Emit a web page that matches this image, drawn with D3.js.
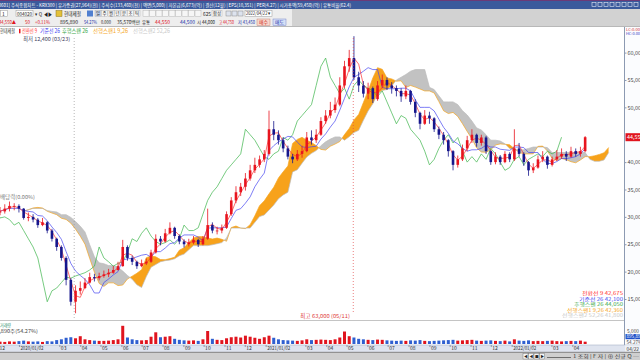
<!DOCTYPE html>
<html>
<head>
<meta charset="utf-8">
<script src="https://cdn.jsdelivr.net/npm/d3@7/dist/d3.min.js"></script>
<style>
  body { margin: 0; background: #fff; overflow: hidden; }
  svg { display: block; font-family: "Noto Sans CJK KR", "Noto Sans", sans-serif; }
</style>
</head>
<body>
<svg id="chart" width="640" height="360"></svg>
<script>
// Weekly buckets (Wednesday of each week)
const firstWeek = new Date(2019, 11, 4);
const firstOpen = 30800;

const closes = [
  31000, 31500, 32000, 32000, 31500, 29800, 30000, 29500, 28500, 29000,
  27500, 26000, 24500, 22500, 18500, 14500, 16500, 17000, 18000, 19000,
  18800, 19200, 19500, 19800, 20300, 21000, 24500, 22500, 21800, 21000,
  21500, 21800, 23500, 26000, 25500, 27000, 28000, 26500, 25500, 25000,
  25300, 25800, 25000, 26000, 28500, 27500, 27500, 28000, 30500, 33000,
  34500, 35500, 37000, 38500, 39500, 40500, 41500, 46000, 45000, 44000,
  42500, 41000, 40500, 41500, 42000, 44500, 44000, 45000, 47500, 48500,
  49500, 50500, 54000, 57500, 59000, 55500, 54000, 52500, 53500, 51500,
  54000, 55000, 54000, 53500, 53000, 52000, 53000, 51000, 49000, 47000,
  48500, 48000, 46000, 45000, 44000, 42000, 39500, 40500, 42500, 44000,
  45000, 43500, 44500, 42000, 40000, 41000, 40000, 41500, 40500, 42500,
  41500, 40000, 38500, 39000, 40500, 41000, 39500, 40500, 41000, 41500,
  41000, 42000, 41500, 42000, 44550
];
const highs = [
  31800, 32300, 32800, 32500, 32300, 31600, 30800, 30500, 29800, 29800,
  29200, 27800, 26200, 24800, 22800, 18800, 17500, 18200, 18800, 19800,
  19600, 19800, 20200, 20500, 21000, 21800, 25800, 24800, 22900, 22000,
  22200, 22400, 24000, 26800, 26500, 27800, 29000, 28200, 26800, 25900,
  26000, 26500, 26000, 26500, 31500, 29000, 28200, 28600, 31000, 33600,
  35600, 36200, 38000, 39500, 40800, 41200, 42200, 49400, 47500, 45800,
  44500, 43000, 41500, 42200, 43000, 45500, 45800, 46000, 48200, 49500,
  51000, 51800, 55500, 58500, 60500, 63000, 56500, 54800, 54500, 53800,
  54800, 56000, 55500, 54600, 54000, 53500, 54000, 53200, 51500, 49200,
  49500, 49200, 48200, 46500, 45500, 44200, 42200, 41200, 43200, 44800,
  46000, 45200, 45000, 44800, 42200, 41800, 41300, 42000, 41800, 46000,
  43500, 41800, 40200, 39800, 41200, 42000, 41200, 41000, 42200, 42500,
  42000, 42800, 42500, 42800, 44750
];
const lows = [
  30300, 30600, 31000, 31200, 30800, 29500, 29200, 29000, 28000, 28300,
  27000, 25500, 23800, 22000, 17500, 13800, 12400, 15800, 16800, 17800,
  18200, 18400, 18900, 19000, 19600, 20200, 20900, 22000, 21200, 20500,
  20800, 21200, 21600, 23300, 24800, 25300, 26800, 26000, 25000, 24400,
  24600, 25000, 24500, 24800, 25800, 27000, 26800, 27000, 27800, 30200,
  32500, 33800, 34800, 36600, 38000, 39000, 40000, 41200, 44000, 43200,
  41800, 40500, 39800, 40200, 40800, 41800, 43200, 43500, 44800, 47000,
  48000, 49000, 50200, 53500, 56500, 55000, 52800, 51800, 51500, 50800,
  51200, 53500, 53200, 52500, 52000, 51000, 51500, 50500, 48200, 46000,
  46800, 47000, 45500, 44200, 43200, 41000, 38500, 39000, 40200, 42000,
  43500, 42800, 43000, 41500, 39500, 39600, 39500, 39800, 40000, 40200,
  41000, 39300, 37500, 38000, 38800, 40000, 38800, 39200, 40200, 40600,
  40200, 40800, 41000, 41000, 41800
];
// volume, thousand shares
const volumes = [
  900, 800, 1000, 900, 1100, 1300, 1000, 900, 1000, 800,
  1100, 1000, 1500, 1800, 2400, 2600, 2200, 3000, 1800, 1500,
  1300, 1200, 1200, 1300, 1500, 1800, 7000, 2500, 1800, 1500,
  1400, 1500, 2800, 4500, 2600, 2800, 3000, 2000, 1600, 1400,
  1300, 1400, 1200, 1800, 5000, 2000, 1600, 1500, 2200, 2600,
  2800, 2500, 3200, 2800, 2400, 2000, 2600, 3200, 2400, 1800,
  1500, 1400, 1300, 1200, 1400, 1800, 1500, 1600, 1700, 1600,
  1500, 1800, 2500, 4800, 3000, 2500, 2000, 1800, 1600, 1500,
  1700, 1600, 1400, 1300, 1200, 1300, 1200, 1400, 1300, 1500,
  1200, 1100, 1200, 1300, 1400, 1500, 1600, 1300, 1400, 1500,
  1600, 1300, 1200, 1300, 1400, 1200, 1100, 1300, 1000, 1800,
  1300, 1200, 1400, 1100, 1200, 1100, 1200, 1300, 1100, 1000,
  1100, 1200, 1100, 1300, 895
];

// 45,000 sits under the current-price box, as in the original
const priceTicks = [15000, 20000, 25000, 30000, 35000, 40000, 50000, 55000, 60000];
const legendNames = ["전환선 9", "기준선 26", "후행스팬 26", "선행스팬1 9,26", "선행스팬2 52,26"];
const legendValues = ["42,675", "42,100", "44,050", "42,360", "41,800"];
const lowMark = { date: new Date(2020, 2, 23), label: "최저 12,400 (03/23)" };
const highMark = { date: new Date(2021, 4, 11), label: "최고 63,000 (05/11)" };

// Ichimoku periods in weekly buckets (9 / 26 / 52 days, shift 26)
const pConv = 2, pBase = 6, pSpan2 = 11, shift = 5;

const colors = {
  up: "#e8141e", down: "#16168c",
  conv: "#ff3030", base: "#4646f0", lag: "#3cb44a",
  span1: "#f5a623", span2: "#bcbcbc",
  cloudUp: "#f7a21b", cloudDown: "#c2c2c2"
};
const lineColors = [colors.conv, colors.base, "#3aa84a", colors.span1, "#c8c8c8"];

const svg = d3.select("#chart");
const weekDate = (i) => d3.timeDay.offset(firstWeek, 7 * i);

// squeeze a text into the width it takes in the original screenshot
const fit = (sel, w) => sel.attr("textLength", w).attr("lengthAdjust", "spacingAndGlyphs");
const txt = (g, px, py, t, size, fill, w) => {
  const s = g.append("text").attr("x", px).attr("y", py).attr("font-size", size).attr("fill", fill).text(t);
  if (w) fit(s, w);
  return s;
};

const candles = closes.map((c, i) => ({
  date: weekDate(i),
  open: i === 0 ? firstOpen : closes[i - 1],
  close: c, high: highs[i], low: lows[i], vol: volumes[i]
}));

const mid = (i, p) => {
  const a = Math.max(0, i - p + 1);
  return (d3.max(highs.slice(a, i + 1)) + d3.min(lows.slice(a, i + 1))) / 2;
};
const conv = candles.map((d, i) => ({ date: d.date, v: mid(i, pConv) }));
const base = candles.map((d, i) => ({ date: d.date, v: mid(i, pBase) }));
const cloud = candles.map((d, i) => ({
  date: weekDate(i + shift),
  a: (conv[i].v + base[i].v) / 2,
  b: mid(i, pSpan2)
}));
const lag = candles.map((d, i) => ({ date: weekDate(i - shift), v: d.close }));

// Scales
const x = d3.scaleTime()
  .domain([new Date(2020, 0, 2), new Date(2022, 3, 22)])
  .range([19.6, 586.5]);
const y = d3.scaleLinear().domain([15000, 60000]).range([299, 52.6]);
const yv = d3.scaleLinear().domain([0, 5000]).range([344, 331]);

// ---------- frame ----------
svg.append("rect").attr("width", 640).attr("height", 360).attr("fill", "#fff");

// title bar
svg.append("rect").attr("width", 640).attr("height", 9).attr("fill", "#3b5a9c");
svg.append("rect").attr("width", 640).attr("height", 1).attr("fill", "#6b3a78");
txt(svg, -3, 6.6, "[0601] 주식종합차트 - KRX300 | 유가증권(27,964)(천) | 주식수(133,460)(천) | 액면(5,000) | 자본금(6,673)(억) | 결산(12월) | EPS(10,351) | PER(4.27) | 시가총액(59,450)(억) | 유통비율(62.4)", 5, "#fff", 354);
d3.range(8).forEach((k) => {
  svg.append("rect").attr("x", 592 + k * 6).attr("y", 2.5).attr("width", 4).attr("height", 4)
    .attr("fill", "none").attr("stroke", "#e8ecf5").attr("stroke-width", 0.6);
});

// toolbar rows
svg.append("rect").attr("y", 9).attr("width", 640).attr("height", 18).attr("fill", "#d2d2d2");
svg.append("rect").attr("y", 9).attr("width", 292).attr("height", 18).attr("fill", "#eeeeee");
svg.append("line").attr("x1", 0).attr("x2", 640).attr("y1", 26.5).attr("y2", 26.5).attr("stroke", "#b8b8b8");

const tb = svg.append("g");
tb.append("rect").attr("x", 0.5).attr("y", 10.5).attr("width", 7).attr("height", 6).attr("fill", "#fff").attr("stroke", "#999").attr("stroke-width", 0.5);
txt(tb, 2, 15.5, "1", 5, "#222");
tb.append("rect").attr("x", 16).attr("y", 10.5).attr("width", 17).attr("height", 6).attr("fill", "#fff").attr("stroke", "#999").attr("stroke-width", 0.5);
txt(tb, 17, 15.5, "004020", 5, "#222", 15);
txt(tb, 35, 15.5, "▾ Q", 5, "#222", 7);
txt(tb, 44, 15.5, "◀▶", 5, "#222", 8);
tb.append("rect").attr("x", 56).attr("y", 10.5).attr("width", 6).attr("height", 6).attr("fill", "#e3c13a").attr("stroke", "#8a7420").attr("stroke-width", 0.5);
txt(tb, 64, 15.6, "현대제철", 5.5, "#222", 17);
tb.append("rect").attr("x", 87).attr("y", 10.5).attr("width", 6).attr("height", 6).attr("fill", "#4f7fd0");
["일", "주", "월", "년", "분", "초", "틱"].forEach((t, k) => {
  tb.append("rect").attr("x", 95 + k * 6.5).attr("y", 10.5).attr("width", 6).attr("height", 6)
    .attr("fill", k === 0 ? "#c9d6ee" : "#f6f6f6").attr("stroke", "#aaa").attr("stroke-width", 0.4);
  txt(tb, 96 + k * 6.5, 15.3, t, 4.4, "#222");
});
d3.range(9).forEach((k) => {
  tb.append("rect").attr("x", 143 + k * 6.5).attr("y", 10.5).attr("width", 6).attr("height", 6)
    .attr("fill", "#f6f6f6").attr("stroke", "#aaa").attr("stroke-width", 0.4);
});
txt(tb, 203, 15.5, "625", 5, "#222", 8);
tb.append("rect").attr("x", 212).attr("y", 10.5).attr("width", 10).attr("height", 6).attr("fill", "#f6f6f6").attr("stroke", "#aaa").attr("stroke-width", 0.4);
txt(tb, 213, 15.3, "합성", 4.4, "#222", 8);
[226, 232, 238].forEach((px) => {
  tb.append("rect").attr("x", px).attr("y", 11).attr("width", 5).attr("height", 5).attr("fill", "#dde3ee").attr("stroke", "#777").attr("stroke-width", 0.4);
});
tb.append("rect").attr("x", 245).attr("y", 10.5).attr("width", 27).attr("height", 6).attr("fill", "#fff").attr("stroke", "#999").attr("stroke-width", 0.5);
txt(tb, 246, 15.4, "2022/04/22 ▾", 4.6, "#222", 25);

const info = [
  { x: -1, w: 17, t: "44,550▲", c: "#e0141e" }, { x: 25, w: 5, t: "50", c: "#e0141e" },
  { x: 35, w: 15, t: "+0.11%", c: "#e0141e" }, { x: 60, w: 18, t: "895,890", c: "#222" },
  { x: 84, w: 13, t: "54.27%", c: "#2233aa" }, { x: 101, w: 10, t: "0.000", c: "#222" },
  { x: 117, w: 23, t: "35,570백만", c: "#222" }, { x: 142, w: 8, t: "유통", c: "#222" },
  { x: 155, w: 15, t: "44,550", c: "#e0141e" }, { x: 180, w: 15, t: "44,500", c: "#2233aa" },
  { x: 197, w: 18, t: "시 44,000", c: "#222" }, { x: 219, w: 15, t: "고 44,750", c: "#e0141e" },
  { x: 238, w: 17, t: "저 43,450", c: "#2233aa" }
];
info.forEach((d) => txt(tb, d.x, 24.2, d.t, 5, d.c, d.w));
tb.append("rect").attr("x", 257).attr("y", 19).attr("width", 13).attr("height", 6.5).attr("fill", "#f6d8cc").attr("stroke", "#c07060").attr("stroke-width", 0.4);
txt(tb, 259, 24.1, "매수", 4.6, "#d02020", 9);
tb.append("rect").attr("x", 273).attr("y", 19).attr("width", 13).attr("height", 6.5).attr("fill", "#d6e0f6").attr("stroke", "#6070c0").attr("stroke-width", 0.4);
txt(tb, 275, 24.1, "매도", 4.6, "#2030b0", 9);

// legend row
const lg = svg.append("g");
txt(lg, 0, 33, "현대제철", 5.5, "#333", 15);
lg.append("rect").attr("x", 19).attr("y", 28.8).attr("width", 1.5).attr("height", 4.5).attr("fill", colors.up);
const legendX = [22, 40, 62, 93, 133];
const legendW = [15, 20, 26, 35, 37];
legendNames.forEach((t, k) => txt(lg, legendX[k], 33, t, 5.5, lineColors[k], legendW[k]));

// ---------- price panel ----------
const defs = svg.append("defs");
defs.append("clipPath").attr("id", "plot").append("rect")
  .attr("x", 0).attr("y", 36).attr("width", 624).attr("height", 284);

const plot = svg.append("g").attr("clip-path", "url(#plot)");

// Kumo (cloud)
const ya = (d) => y(d.a), yb = (d) => y(d.b), xd = (d) => x(d.date);
defs.append("clipPath").attr("id", "belowA").append("path")
  .attr("d", d3.area().x(xd).y0(330).y1(ya)(cloud));
defs.append("clipPath").attr("id", "aboveA").append("path")
  .attr("d", d3.area().x(xd).y0(0).y1(ya)(cloud));

plot.append("path").attr("clip-path", "url(#belowA)")
  .attr("fill", colors.cloudUp)
  .attr("d", d3.area().x(xd).y0(yb).y1(0)(cloud));
plot.append("path").attr("clip-path", "url(#aboveA)")
  .attr("fill", colors.cloudDown)
  .attr("d", d3.area().x(xd).y0(yb).y1(330)(cloud));

const line = d3.line().x(xd).y((d) => y(d.v));
plot.append("path").attr("fill", "none").attr("stroke", colors.span1).attr("stroke-width", 0.7)
  .attr("d", d3.line().x(xd).y(ya)(cloud));
plot.append("path").attr("fill", "none").attr("stroke", colors.span2).attr("stroke-width", 0.7)
  .attr("d", d3.line().x(xd).y(yb)(cloud));
plot.append("path").attr("fill", "none").attr("stroke", colors.lag).attr("stroke-width", 0.7)
  .attr("d", line(lag));
plot.append("path").attr("fill", "none").attr("stroke", colors.base).attr("stroke-width", 0.7)
  .attr("d", line(base));
plot.append("path").attr("fill", "none").attr("stroke", colors.conv).attr("stroke-width", 0.7)
  .attr("d", line(conv));

// candles
const cg = plot.selectAll(".candle").data(candles).enter().append("g").attr("class", "candle");
const col = (d) => (d.close >= d.open ? colors.up : colors.down);
cg.append("line")
  .attr("x1", (d) => x(d.date)).attr("x2", (d) => x(d.date))
  .attr("y1", (d) => y(d.high)).attr("y2", (d) => y(d.low))
  .attr("stroke", col).attr("stroke-width", 0.8);
cg.append("rect")
  .attr("x", (d) => x(d.date) - 1.3).attr("width", 2.6)
  .attr("y", (d) => y(Math.max(d.open, d.close)))
  .attr("height", (d) => Math.max(0.8, Math.abs(y(d.open) - y(d.close))))
  .attr("fill", col);

// high / low markers
plot.append("line").attr("x1", x(lowMark.date)).attr("x2", x(lowMark.date))
  .attr("y1", 38).attr("y2", 318).attr("stroke", "#9a9a9a").attr("stroke-width", 0.7)
  .attr("stroke-dasharray", "1,2");
plot.append("line").attr("x1", x(highMark.date)).attr("x2", x(highMark.date))
  .attr("y1", 38).attr("y2", 314).attr("stroke", "#e04848").attr("stroke-width", 0.7)
  .attr("stroke-dasharray", "1,2");
txt(svg, 23, 40.5, lowMark.label, 5.2, "#3a3a5a", 47);
txt(svg, 300, 318.3, highMark.label, 5.2, "#e03a3a", 50);

txt(svg, 0, 198.5, "배당락(0.00%)", 5.2, "#777", 35);

// bottom-right value legend
const valW = [41, 44, 49, 56, 61];
legendNames.forEach((t, k) => {
  txt(svg, 623 - valW[k], 295 + k * 5.5, `${t} ${legendValues[k]}`, 4.6, lineColors[k], valW[k]);
});

// right price axis
svg.append("rect").attr("x", 624.5).attr("y", 27).attr("width", 16).attr("height", 318).attr("fill", "#fbfcfe");
svg.append("line").attr("x1", 624.5).attr("x2", 624.5).attr("y1", 27).attr("y2", 352).attr("stroke", "#8c9ab2");
svg.append("g").attr("transform", "translate(624.5,0)")
  .call(d3.axisRight(y).tickValues(priceTicks).tickSize(2).tickFormat(d3.format(",")))
  .call((g) => g.select(".domain").remove())
  .call((g) => g.selectAll("line").attr("stroke", "#8c9ab2"))
  .attr("font-size", 5.4).attr("font-family", null)
  .selectAll("text").attr("x", 3).attr("fill", "#444");
txt(svg, 626, 30.6, "LC:0.00", 3.8, "#d03030", 14);
txt(svg, 626, 35.4, "HC:0.00", 3.8, "#3030c0", 14);
const last = candles[candles.length - 1];
svg.append("rect").attr("x", 625.5).attr("y", y(last.close) - 4).attr("width", 15).attr("height", 8).attr("fill", "#e0141e");
txt(svg, 627, y(last.close) + 2, d3.format(",")(last.close), 5.4, "#fff");

// ---------- volume panel ----------
svg.append("line").attr("x1", 0).attr("x2", 624).attr("y1", 320.5).attr("y2", 320.5).attr("stroke", "#c4c4c4");
txt(svg, 0, 326.5, "거래량", 5, "#2a9070", 11);
txt(svg, -10, 332.8, "895,890주(54.27%)", 5, "#444", 48);
svg.selectAll(".vol").data(candles).enter().append("rect").attr("class", "vol")
  .attr("x", (d) => x(d.date) - 1.5).attr("width", 3)
  .attr("y", (d) => yv(d.vol)).attr("height", (d) => 344 - yv(d.vol))
  .attr("fill", (d) => (d.close >= d.open ? "#e0141e" : "#2f5fd0"));
txt(svg, 627, 332.5, "5,000", 4.8, "#444");
svg.append("rect").attr("x", 625.5).attr("y", 334).attr("width", 15).attr("height", 5.2).attr("fill", "#1e4fc8");
txt(svg, 626.5, 338.4, "895,890", 4.6, "#fff");
txt(svg, 626.5, 344, "54.27%", 4.6, "#444");

// ---------- date axis ----------
svg.append("rect").attr("x", 0).attr("y", 345).attr("width", 640).attr("height", 7).attr("fill", "#dfe4ef");
svg.append("line").attr("x1", 0).attr("x2", 640).attr("y1", 345).attr("y2", 345).attr("stroke", "#a8b2c6").attr("stroke-width", 0.6);
const monthTicks = d3.timeMonth.range(new Date(2019, 11, 1), new Date(2022, 4, 1));
const monthFmt = (d) => {
  const m = d.getMonth();
  if (m === 0) return `${d.getFullYear()}/01/02`;
  if (m === 1) return "";
  return d3.timeFormat("%m")(d);
};
svg.append("g").attr("transform", "translate(0,345)")
  .call(d3.axisBottom(x).tickValues(monthTicks).tickSize(2).tickFormat(monthFmt))
  .call((g) => g.select(".domain").remove())
  .call((g) => g.selectAll("line").attr("stroke", "#8c96aa"))
  .attr("font-size", 5).attr("font-family", null)
  .selectAll("text").attr("text-anchor", "start").attr("x", 1).attr("y", 1).attr("fill", "#333")
  .each(function (d) { if (d.getMonth() === 0) fit(d3.select(this), 23); });
svg.append("rect").attr("x", 625).attr("y", 345.3).attr("width", 15).attr("height", 6.5).attr("fill", "#eef1f6");
txt(svg, 626.5, 350.6, "04/22", 4.8, "#333");

// bottom bar
svg.append("rect").attr("x", 0).attr("y", 352).attr("width", 640).attr("height", 8).attr("fill", "#cfcfcf");
svg.append("line").attr("x1", 0).attr("x2", 640).attr("y1", 352.3).attr("y2", 352.3).attr("stroke", "#6e6e6e").attr("stroke-width", 0.8);
["◀", "◀", "■", "▶"].forEach((t, k) => {
  svg.append("rect").attr("x", 523 + k * 5.5).attr("y", 353.5).attr("width", 5).attr("height", 5.5).attr("fill", "#f4f4f4").attr("stroke", "#666").attr("stroke-width", 0.4);
  txt(svg, 524 + k * 5.5, 358, t, 3.6, "#222");
});
svg.append("line").attr("x1", 547).attr("x2", 571).attr("y1", 357.5).attr("y2", 357.5).attr("stroke", "#555").attr("stroke-width", 0.8);
txt(svg, 573, 358.4, "1 조회 | F 자 | ⊕ 신규 Q ─", 4.6, "#333", 66);
</script>
</body>
</html>
